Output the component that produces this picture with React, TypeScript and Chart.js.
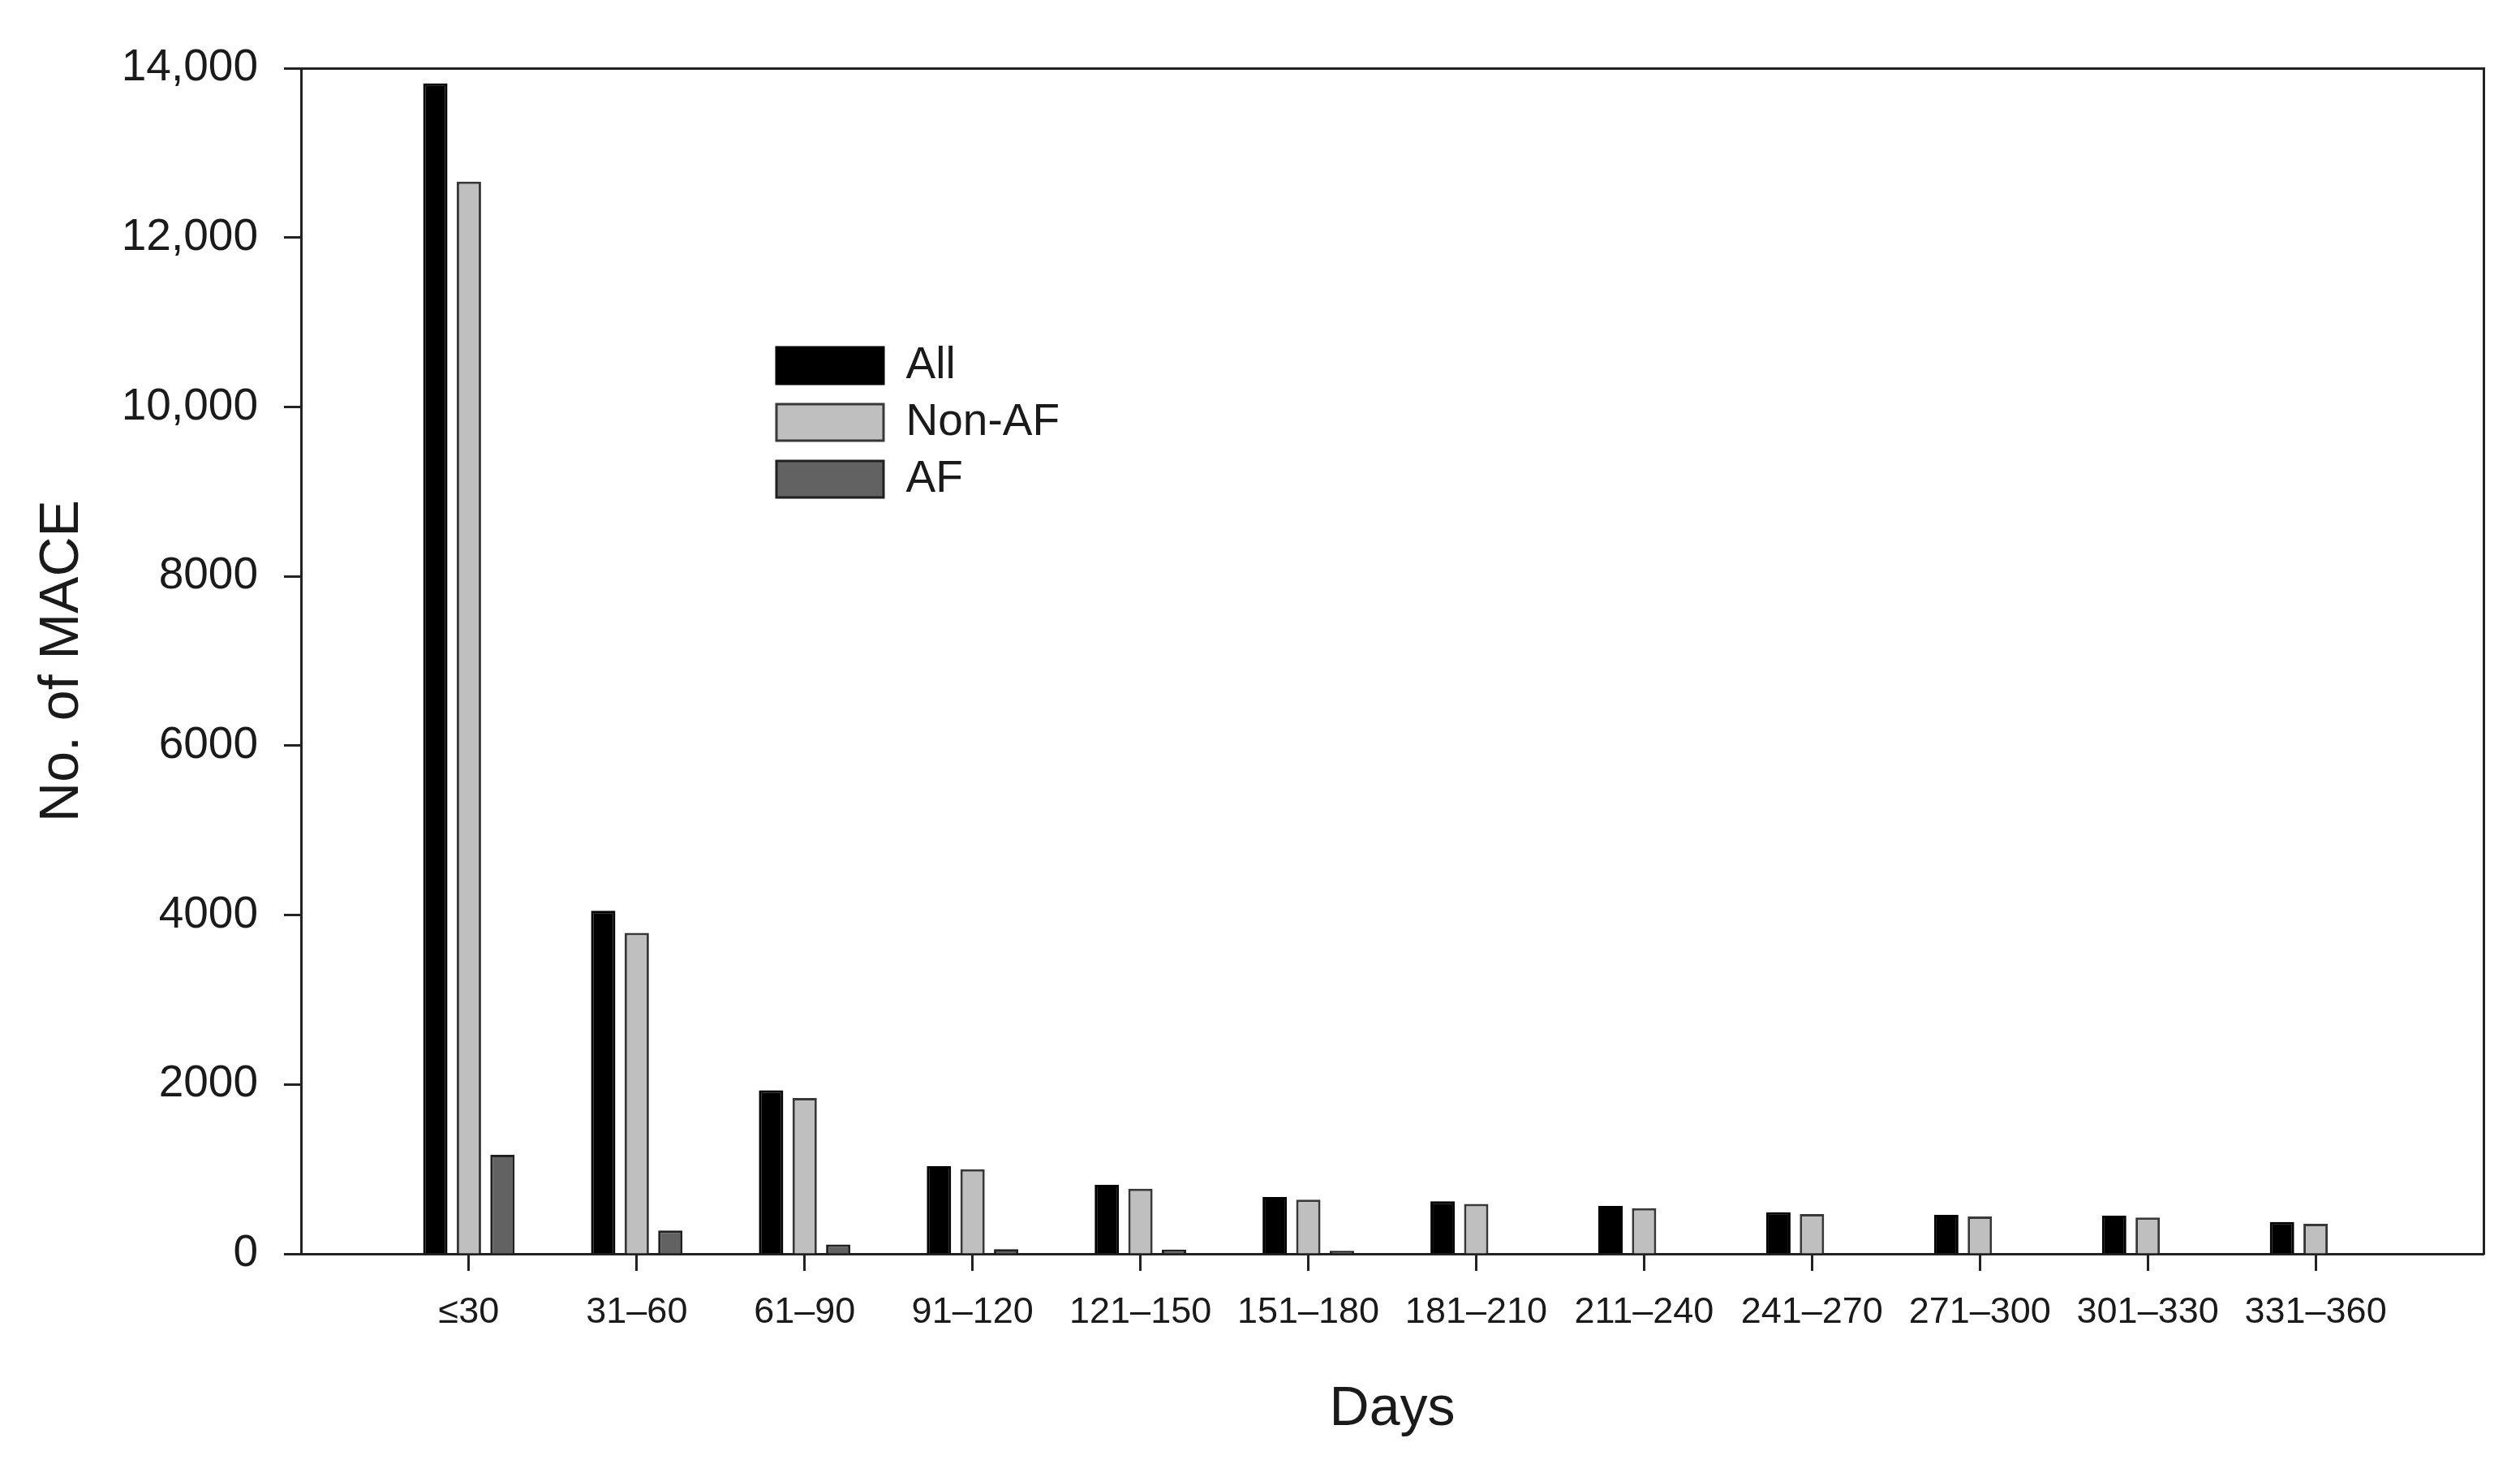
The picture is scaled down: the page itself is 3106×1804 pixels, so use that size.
import React, { useEffect, useRef } from 'react';
import { Chart, registerables } from 'chart.js';

Chart.register(...registerables);

const categories = ['≤30', '31–60', '61–90', '91–120', '121–150', '151–180', '181–210', '211–240', '241–270', '271–300', '301–330', '331–360'];
const seriesNames = ['All', 'Non-AF', 'AF'];
const allValues = [13820, 4050, 1930, 1035, 815, 670, 620, 565, 490, 460, 450, 375];
const nonAfValues = [12660, 3790, 1840, 1000, 770, 640, 590, 540, 470, 440, 430, 355];
const afValues = [1170, 275, 110, 55, 50, 35, 0, 0, 0, 0, 0, 0];
const yTickValues = [0, 2000, 4000, 6000, 8000, 10000, 12000, 14000];
const yTickLabels = ['0', '2000', '4000', '6000', '8000', '10,000', '12,000', '14,000'];

const FONT = '"Liberation Sans", Arial, Helvetica, sans-serif';
const INK = '#1a1a1a';
const AXIS = '#222222';

const legendPlacement = {
  id: 'legendPlacement',
  afterLayout(chart: any) {
    const lg = chart.legend;
    if (!lg) return;
    const a = chart.chartArea;
    lg.left = a.left + 571;
    lg.top = a.top + 324;
    lg.right = a.right;
    lg.bottom = a.bottom;
  },
};

export default function App() {
  const ref = useRef<HTMLCanvasElement>(null);

  useEffect(() => {
    const canvas = ref.current;
    if (!canvas) return;
    Chart.defaults.font.family = FONT;
    Chart.defaults.color = INK;
    const toPoints = (vals: number[]) => vals.map((y, i) => ({ x: i, y }));

    const chart = new Chart(canvas, {
      type: 'bar',
      data: {
        datasets: [
          { label: seriesNames[0], data: toPoints(allValues), backgroundColor: '#000000', borderColor: '#000000', borderWidth: 3, xAxisID: 'x', yAxisID: 'y' },
          { label: seriesNames[1], data: toPoints(nonAfValues), backgroundColor: '#bfbfbf', borderColor: '#383838', borderWidth: 3, xAxisID: 'x', yAxisID: 'y' },
          { label: seriesNames[2], data: toPoints(afValues), backgroundColor: '#626262', borderColor: '#202020', borderWidth: 3, xAxisID: 'x', yAxisID: 'y' },
        ],
      } as any,
      options: {
        responsive: false,
        animation: false,
        devicePixelRatio: 1,
        layout: { padding: { left: 0, top: 84, right: 45, bottom: 0 } },
        datasets: { bar: { categoryPercentage: 0.6, barPercentage: 0.725 } } as any,
        plugins: {
          tooltip: { enabled: false },
          legend: {
            display: true,
            position: 'chartArea' as any,
            align: 'start',
            labels: {
              boxWidth: 132,
              boxHeight: 45,
              padding: 15,
              color: INK,
              font: { size: 55, family: FONT },
            },
          },
        },
        scales: {
          x: {
            type: 'linear',
            position: 'bottom',
            axis: 'x',
            min: -1,
            max: 12,
            offset: false,
            z: 1,
            grid: { display: true, drawOnChartArea: false, drawTicks: true, tickLength: 21, tickWidth: 3, tickColor: AXIS, color: AXIS, offset: false },
            border: { display: true, width: 3, color: AXIS },
            ticks: {
              autoSkip: false,
              maxRotation: 0,
              minRotation: 0,
              padding: 25,
              color: INK,
              font: { size: 45, family: FONT },
              callback: (v: any) => categories[v as number] ?? '',
            },
            afterBuildTicks: (s: any) => {
              s.ticks = categories.map((_, i) => ({ value: i }));
            },
            afterFit: (s: any) => {
              s.height = 259;
              s.paddingLeft = 0;
              s.paddingRight = 0;
            },
            title: { display: true, text: 'Days', color: INK, font: { size: 68, family: FONT }, padding: { top: 0, bottom: 26 } },
          } as any,
          y: {
            type: 'linear',
            position: 'left',
            axis: 'y',
            min: 0,
            max: 14000,
            grid: { display: true, drawOnChartArea: false, drawTicks: true, tickLength: 21, tickWidth: 3, tickColor: AXIS, color: AXIS },
            border: { display: true, width: 3, color: AXIS },
            ticks: {
              stepSize: 2000,
              padding: 32,
              color: INK,
              font: { size: 55, family: FONT },
              callback: (v: any) => yTickLabels[yTickValues.indexOf(v as number)] ?? '',
            },
            afterFit: (s: any) => {
              s.width = 371;
              s.paddingTop = 0;
              s.paddingBottom = 0;
            },
            title: { display: true, text: 'No. of MACE', color: INK, font: { size: 68, family: FONT }, padding: { top: 36, bottom: 0 } },
          } as any,
          xTop: {
            type: 'linear',
            position: 'top',
            axis: 'x',
            grid: { display: false, drawTicks: false },
            ticks: { display: false },
            border: { display: true, width: 3, color: AXIS },
            afterFit: (s: any) => { s.height = 0; },
          } as any,
          yRight: {
            type: 'linear',
            position: 'right',
            axis: 'y',
            grid: { display: false, drawTicks: false },
            ticks: { display: false },
            border: { display: true, width: 3, color: AXIS },
            afterFit: (s: any) => { s.width = 0; },
          } as any,
        },
      },
      plugins: [legendPlacement],
    });

    return () => chart.destroy();
  }, []);

  return (
    <div style={{ position: 'fixed', left: 0, top: 0, width: 3106, height: 1804, background: '#ffffff' }}>
      <canvas ref={ref} width={3106} height={1804} style={{ width: 3106, height: 1804, display: 'block' }} />
    </div>
  );
}
